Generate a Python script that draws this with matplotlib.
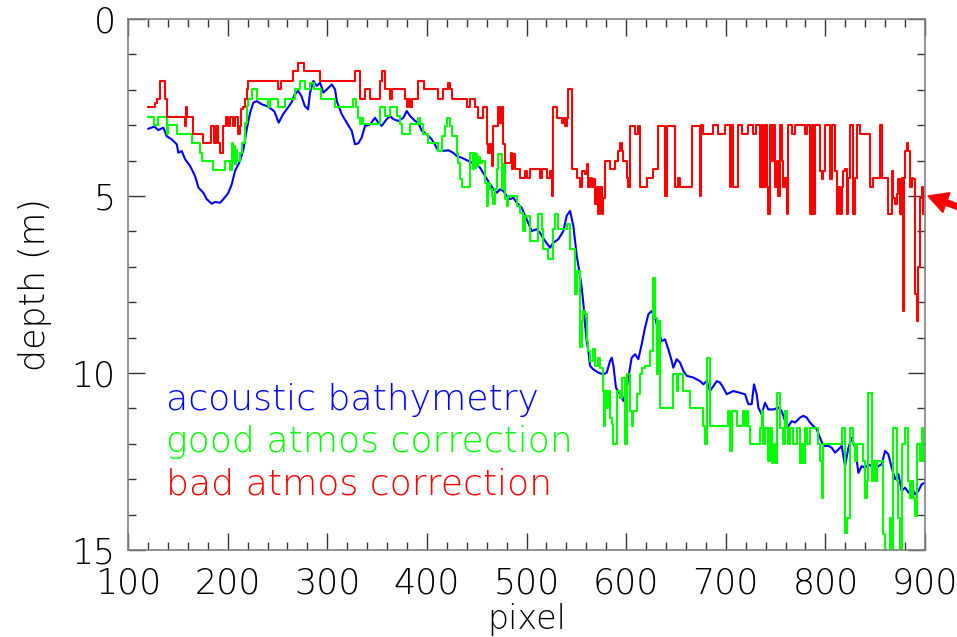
import matplotlib
matplotlib.use("Agg")
import matplotlib.pyplot as plt
from matplotlib.ticker import MultipleLocator

# ----------------------------------------------------------------------
# DATA
# ----------------------------------------------------------------------
acoustic_x = [120.4, 126.4, 130.4, 135.4, 138.8, 143.8, 148.9, 150.5, 153.9, 157.2,
              162.2, 167.3, 170.6, 175.6, 179.0, 184.0, 187.3, 192.4, 195.7, 200.7,
              204.1, 207.4, 212.4, 215.8, 219.1, 222.5, 225.8, 229.2, 234.2, 239.2,
              244.3, 247.0, 251.2, 255.6, 260.6, 264.0, 267.3, 270.7, 274.1, 277.4,
              280.7, 282.7, 286.0, 289.4, 292.8, 296.1, 299.5, 304.5, 307.8, 309.5,
              314.5, 319.5, 324.5, 327.8, 331.2, 334.5, 337.9, 342.9, 347.9, 351.3,
              354.6, 359.6, 363.0, 366.3, 371.3, 376.4, 379.7, 383.1, 388.1, 391.4,
              394.8, 399.8, 404.8, 408.1, 411.5, 414.8, 421.5, 426.5, 429.9, 434.9,
              441.6, 448.3, 453.3, 458.4, 463.4, 466.7, 470.1, 473.4, 476.8, 480.1,
              483.4, 486.8, 490.1, 495.1, 500.2, 505.2, 510.2, 513.5, 518.6, 523.6,
              526.9, 531.9, 537.0, 540.3, 543.7, 547.0, 550.4, 553.7, 555.4, 557.1,
              558.7, 560.4, 562.1, 563.7, 567.1, 572.1, 577.1, 580.5, 583.8, 585.5,
              587.2, 589.8, 593.8, 597.2, 600.5, 603.9, 605.5, 608.9, 612.2, 615.6,
              618.9, 622.3, 625.6, 629.0, 632.3, 635.6, 639.0, 642.3, 645.7, 647.4,
              650.7, 654.1, 657.4, 660.8, 667.5, 674.2, 677.5, 680.9, 684.2, 687.5,
              690.9, 694.2, 697.6, 700.9, 707.6, 714.3, 719.3, 722.6, 726.0, 728.3,
              731.0, 732.7, 736.0, 739.4, 742.7, 747.8, 752.8, 756.1, 759.5, 762.8,
              766.2, 769.5, 774.5, 777.9, 781.2, 784.6, 787.9, 791.3, 794.6, 797.9,
              803.0, 806.3, 809.7, 813.0, 816.4, 819.7, 823.1, 826.4, 829.8, 833.1,
              836.5, 839.8, 843.1, 846.5, 849.8, 853.2, 856.5, 859.9, 863.2, 866.6,
              869.9, 873.3, 876.6, 880.0, 883.3, 886.7, 890.0, 893.4, 896.7, 900.0]
acoustic_depth = [3.10, 3.04, 3.14, 3.07, 3.31, 3.40, 3.54, 3.78, 3.73, 3.96,
                  4.15, 4.44, 4.76, 4.91, 5.09, 5.22, 5.17, 5.19, 5.09, 4.91,
                  4.67, 4.29, 4.01, 3.68, 3.12, 2.65, 2.36, 2.32, 2.41, 2.46,
                  2.55, 2.62, 2.93, 2.69, 2.50, 2.36, 2.13, 2.03, 2.18, 2.46,
                  2.55, 2.08, 1.75, 1.89, 1.80, 2.08, 1.99, 1.85, 1.99, 2.32,
                  2.69, 2.93, 3.16, 3.54, 3.51, 3.35, 3.02, 2.98, 2.79, 2.93,
                  3.02, 2.83, 2.74, 2.83, 2.88, 2.79, 2.60, 2.74, 2.88, 2.93,
                  3.16, 3.26, 3.40, 3.55, 3.73, 3.73, 3.71, 3.78, 3.87, 3.92,
                  4.01, 4.10, 4.20, 4.44, 4.67, 4.81, 4.91, 4.81, 4.86, 5.00,
                  5.09, 5.05, 5.19, 5.33, 5.66, 5.99, 5.94, 6.04, 6.27, 6.46,
                  6.32, 6.22, 5.99, 5.56, 5.42, 5.85, 6.69, 7.26, 7.59, 8.06,
                  8.62, 9.10, 9.38, 9.80, 9.90, 9.99, 10.04, 9.99, 9.66, 9.57,
                  9.80, 10.42, 10.60, 10.79, 10.42, 9.85, 9.57, 9.47, 9.61, 9.19,
                  8.72, 8.34, 8.25, 8.44, 8.81, 9.10, 9.05, 9.33, 9.66, 9.85,
                  9.61, 9.71, 9.94, 10.08, 10.13, 10.23, 10.32, 10.23, 10.51, 10.37,
                  10.23, 10.27, 10.42, 10.60, 10.51, 10.56, 10.60, 10.88, 10.88, 10.32,
                  10.60, 10.98, 11.17, 10.84, 11.03, 11.03, 10.98, 11.07, 11.36, 11.50,
                  11.36, 11.40, 11.26, 11.21, 11.26, 11.40, 11.50, 11.59, 11.83, 12.06,
                  12.06, 12.11, 12.25, 12.16, 12.06, 12.63, 12.11, 11.83, 12.11, 12.82,
                  12.63, 12.68, 12.58, 12.63, 12.72, 12.63, 12.58, 12.20, 12.30, 12.68,
                  13.00, 12.86, 13.33, 13.24, 13.38, 13.24, 13.43, 13.33, 13.14, 13.10]

# good atmospheric correction (stepped: depth holds from x[i] to x[i+1])
good_x = [120.4, 126.4, 130.4, 138.8, 139.8, 148.9, 163.9, 172.3, 174.0, 185.7,
          197.4, 202.4, 204.1, 205.0, 206.0, 207.0, 208.0, 209.1, 212.4, 214.1,
          217.5, 219.1, 220.8, 224.2, 229.2, 240.9, 242.6, 251.0, 257.2, 267.3,
          272.3, 277.4, 283.0, 287.0, 294.1, 307.5, 325.9, 329.3, 331.0, 332.6,
          334.3, 336.0, 352.7, 357.7, 362.8, 369.5, 372.8, 374.5, 382.9, 391.4,
          393.0, 396.4, 401.4, 411.5, 414.8, 418.2, 419.8, 423.2, 424.9, 429.9,
          431.6, 433.3, 434.9, 443.3, 446.6, 447.5, 448.5, 449.5, 450.5, 451.7,
          453.3, 455.0, 458.4, 460.0, 461.7, 463.4, 465.1, 466.7, 468.4, 470.1,
          471.8, 475.1, 476.8, 478.4, 480.1, 481.8, 490.1, 493.5, 496.8, 498.5,
          503.5, 511.9, 515.2, 516.9, 521.9, 526.9, 528.6, 531.9, 540.3, 543.7,
          548.7, 550.4, 553.7, 555.4, 557.1, 558.7, 560.4, 562.1, 563.7, 567.1,
          568.8, 572.1, 573.8, 577.1, 577.8, 578.8, 580.5, 582.1, 583.8, 585.5,
          587.2, 591.2, 593.8, 595.5, 598.9, 600.5, 603.9, 605.5, 607.2, 610.6,
          613.9, 615.6, 618.9, 623.9, 627.3, 629.0, 630.6, 632.3, 634.0, 647.4,
          650.7, 652.4, 657.4, 664.1, 677.5, 679.2, 680.9, 684.2, 702.6, 704.3,
          706.0, 711.0, 717.7, 719.3, 721.0, 722.6, 724.3, 734.4, 736.0, 737.7,
          739.4, 742.7, 744.4, 746.1, 747.8, 749.5, 751.1, 754.5, 757.8, 759.5,
          761.2, 762.8, 764.5, 767.9, 771.2, 774.5, 776.2, 777.9, 779.6, 781.2,
          784.6, 792.9, 794.6, 796.3, 797.9, 816.4, 819.7, 821.4, 824.7, 828.1,
          829.8, 831.4, 838.1, 839.8, 841.5, 843.1, 846.5, 848.2, 849.8, 851.5,
          858.2, 859.9, 864.9, 866.6, 868.2, 871.6, 873.3, 874.9, 876.6, 880.0,
          883.3, 885.0, 886.7, 888.3, 890.0, 891.7, 895.0, 896.7, 898.4, 900.0]
good_depth = [2.77, 2.99, 2.77, 3.25, 2.99, 3.25, 3.49, 3.78, 4.01, 4.26,
              4.01, 4.26, 3.49, 4.01, 3.60, 4.10, 3.70, 4.01, 3.78, 3.49,
              2.93, 2.46, 2.27, 1.99, 2.27, 2.50, 2.27, 2.50, 2.27, 1.99,
              1.75, 1.99, 1.80, 1.99, 2.27, 2.50, 2.27, 2.50, 2.79, 2.98,
              2.79, 2.98, 2.50, 2.74, 2.50, 2.74, 2.98, 3.25, 2.98, 2.79,
              2.98, 3.25, 3.49, 3.73, 3.31, 3.02, 2.79, 3.02, 3.31, 3.78,
              4.06, 4.53, 4.76, 3.78, 4.25, 3.78, 4.20, 3.80, 4.15, 3.90,
              4.06, 4.01, 4.62, 5.28, 4.62, 4.81, 5.00, 5.23, 4.81, 4.25,
              3.82, 4.81, 4.10, 5.09, 5.28, 5.00, 5.28, 5.47, 5.99, 5.56,
              6.27, 5.52, 5.94, 6.50, 6.79, 5.94, 5.52, 5.94, 5.80, 6.50,
              7.78, 7.12, 9.28, 8.53, 8.25, 8.34, 9.10, 9.38, 9.66, 9.33,
              9.80, 9.57, 9.85, 10.51, 11.50, 10.51, 10.98, 10.51, 11.26, 11.45,
              12.01, 10.51, 10.70, 10.13, 12.01, 10.04, 11.07, 11.50, 11.07, 10.60,
              10.04, 9.85, 9.80, 9.38, 7.31, 8.44, 10.04, 8.53, 10.98, 10.04,
              10.51, 10.04, 10.51, 10.98, 11.50, 12.01, 9.57, 11.50, 11.07, 12.20,
              11.07, 11.50, 11.07, 11.50, 11.07, 11.50, 12.01, 11.55, 11.07, 12.01,
              11.55, 12.49, 11.55, 12.53, 12.01, 12.53, 10.56, 11.55, 12.01, 11.07,
              11.55, 12.01, 11.55, 12.01, 11.55, 12.53, 12.01, 12.53, 11.55, 12.01,
              11.55, 12.01, 12.49, 13.52, 12.01, 11.55, 14.51, 14.09, 11.55, 12.01,
              12.49, 12.01, 12.49, 13.52, 13.05, 10.56, 13.05, 12.49, 13.05, 12.49,
              14.56, 15.50, 14.09, 15.50, 11.55, 13.05, 14.09, 15.50, 12.01, 11.55,
              13.05, 13.52, 13.05, 13.52, 14.04, 12.01, 12.49, 11.55, 12.49, 12.49]

# bad atmospheric correction (stepped)
bad_x = [120.4, 127.1, 128.8, 132.1, 137.1, 138.8, 157.2, 158.2, 159.5, 165.6,
         175.6, 183.3, 186.5, 188.0, 190.0, 192.4, 195.7, 198.1, 200.7, 202.4,
         205.7, 207.5, 210.8, 212.4, 213.4, 215.8, 217.5, 219.1, 220.8, 250.6,
         253.9, 265.6, 270.7, 276.5, 292.4, 327.6, 332.6, 337.6, 342.7, 352.7,
         355.0, 358.0, 363.0, 365.0, 377.9, 379.6, 381.2, 382.9, 384.6, 391.3,
         397.0, 411.5, 416.5, 421.5, 423.2, 424.9, 440.0, 443.3, 448.3, 451.7,
         456.7, 460.0, 461.7, 463.4, 465.1, 466.7, 471.8, 473.4, 475.1, 476.8,
         478.4, 484.0, 485.5, 486.5, 488.0, 493.5, 498.5, 500.2, 503.5, 513.5,
         515.2, 520.2, 523.6, 525.2, 526.9, 530.3, 535.3, 537.0, 538.6, 540.3,
         542.0, 545.3, 550.4, 553.7, 555.4, 558.7, 560.4, 562.1, 563.7, 565.4,
         567.1, 568.8, 570.4, 572.1, 573.8, 575.5, 577.1, 578.8, 583.8, 588.8,
         592.2, 593.8, 595.5, 597.2, 600.5, 602.2, 603.9, 608.9, 612.2, 613.9,
         620.6, 627.3, 632.3, 639.0, 640.7, 649.1, 652.4, 654.1, 665.8, 674.2,
         675.5, 677.5, 687.6, 692.6, 699.3, 704.3, 705.5, 707.0, 712.7, 716.0,
         722.7, 727.7, 730.0, 734.4, 736.1, 737.7, 739.4, 741.1, 742.8, 744.4,
         746.1, 747.8, 749.5, 751.1, 752.8, 754.5, 756.2, 757.8, 759.5, 761.2,
         762.9, 766.2, 769.5, 779.6, 781.2, 784.6, 786.3, 787.9, 789.6, 794.6,
         796.3, 798.0, 799.6, 804.7, 806.3, 809.7, 811.4, 813.0, 814.7, 816.4,
         818.1, 819.7, 821.4, 823.1, 824.7, 828.1, 829.8, 831.4, 834.8, 844.8,
         848.2, 854.9, 856.5, 863.2, 866.6, 868.2, 869.9, 871.6, 873.3, 874.9,
         876.6, 877.6, 878.9, 880.0, 881.6, 883.3, 885.0, 886.7, 888.3, 890.0,
         891.7, 893.3, 895.0, 896.7, 898.4, 900.0]
bad_depth = [2.50, 2.36, 2.27, 1.75, 2.27, 2.77, 3.02, 2.50, 2.77, 3.26,
             3.51, 3.02, 3.51, 3.02, 3.51, 3.78, 3.02, 2.77, 3.02, 2.77,
             3.02, 2.77, 3.26, 3.02, 2.55, 2.50, 2.27, 1.99, 1.75, 1.99,
             1.75, 1.47, 1.23, 1.47, 1.75, 1.47, 2.27, 1.99, 2.27, 1.75,
             1.47, 1.99, 2.27, 1.99, 2.27, 2.50, 2.27, 2.50, 2.27, 1.75,
             1.99, 2.27, 1.99, 1.80, 1.99, 2.27, 2.50, 2.27, 2.50, 2.79,
             2.50, 3.54, 3.78, 3.54, 4.15, 3.02, 2.50, 2.93, 2.50, 3.54,
             4.06, 3.78, 4.25, 3.80, 4.25, 4.48, 4.29, 4.48, 4.25, 4.48,
             4.25, 4.48, 4.29, 5.00, 2.50, 2.79, 2.93, 2.79, 3.02, 2.79,
             1.99, 4.25, 4.48, 4.76, 4.29, 4.39, 4.11, 4.76, 4.48, 4.76,
             4.53, 5.23, 4.76, 5.52, 4.76, 5.52, 5.05, 4.01, 4.25, 4.01,
             3.73, 3.49, 3.73, 4.01, 4.48, 4.76, 3.02, 3.26, 3.02, 4.76,
             4.48, 4.25, 3.02, 5.00, 3.02, 4.76, 4.48, 4.76, 3.02, 5.00,
             2.99, 3.26, 2.99, 3.26, 2.99, 4.76, 2.99, 4.76, 2.99, 3.26,
             2.99, 3.26, 2.99, 4.76, 2.99, 4.76, 2.99, 4.76, 5.52, 2.99,
             4.01, 2.99, 4.76, 4.01, 5.00, 2.99, 4.01, 4.76, 4.48, 5.52,
             2.99, 3.26, 2.99, 3.26, 2.99, 5.52, 2.99, 5.52, 2.99, 4.29,
             4.53, 4.29, 2.99, 4.53, 2.99, 4.29, 5.52, 4.76, 5.52, 4.76,
             4.29, 4.25, 5.52, 4.48, 2.99, 5.52, 4.48, 2.99, 3.26, 4.76,
             4.48, 2.99, 4.48, 5.52, 4.29, 5.05, 5.23, 4.95, 4.53, 5.52,
             4.48, 8.25, 4.48, 3.73, 3.49, 3.73, 4.76, 4.48, 4.53, 7.78,
             8.53, 7.02, 5.05, 4.76, 5.52, 5.52]

legend_labels = ["acoustic bathymetry", "good atmos correction", "bad atmos correction"]
legend_colors = ["#0000ff", "#00ff00", "#ff0000"]
x_ticks = [100, 200, 300, 400, 500, 600, 700, 800, 900]
y_ticks = [0, 5, 10, 15]
arrow_depth = 5.0

# ----------------------------------------------------------------------
# PLOT
# ----------------------------------------------------------------------
fig = plt.figure(figsize=(9.57, 6.37), dpi=100)
ax = fig.add_axes([0.1338, 0.1366, 0.8328, 0.8336])

ax.plot(acoustic_x, acoustic_depth, color=legend_colors[0], lw=1.5)
ax.plot(good_x, good_depth, color=legend_colors[1], lw=1.5, drawstyle="steps-post")
ax.plot(bad_x, bad_depth, color=legend_colors[2], lw=1.5, drawstyle="steps-post")

ax.set_xlim(100, 900)
ax.set_ylim(15, 0)
ax.set_xticks(x_ticks)
ax.set_yticks(y_ticks)
ax.xaxis.set_minor_locator(MultipleLocator(20))
ax.yaxis.set_minor_locator(MultipleLocator(1))
ax.tick_params(which="both", direction="in", top=True, right=True, color="#333333", width=1)
ax.tick_params(which="major", length=12)
ax.tick_params(which="minor", length=6)
ax.tick_params(axis="x", pad=12)
ax.tick_params(axis="y", pad=9)
for sp in ax.spines.values():
    sp.set_color("#808080")
    sp.set_linewidth(1.2)

tick_font = dict(family="DejaVu Sans", weight="light", size=25)
ax.set_xticklabels([str(t) for t in x_ticks], **tick_font)
ax.set_yticklabels([str(t) for t in y_ticks], **tick_font)

ax.set_xlabel("pixel", fontsize=24, family="DejaVu Sans", fontweight="light", labelpad=2)
ax.set_ylabel("depth (m)", fontsize=25, family="DejaVu Sans", fontweight="light", labelpad=14)

# colour-coded legend text
for label, col, ypos in zip(legend_labels, legend_colors, [0.264, 0.185, 0.104]):
    ax.text(0.048, ypos, label, color=col, transform=ax.transAxes,
            fontsize=26, family="DejaVu Sans", fontweight="light", va="baseline")

# red arrow marking 5 m at the right edge
ax.annotate("", xy=(903, arrow_depth), xytext=(958, arrow_depth + 0.56),
            arrowprops=dict(facecolor="red", edgecolor="red", width=4,
                            headwidth=15, headlength=14),
            annotation_clip=False)

fig.savefig("out.png", dpi=100)
